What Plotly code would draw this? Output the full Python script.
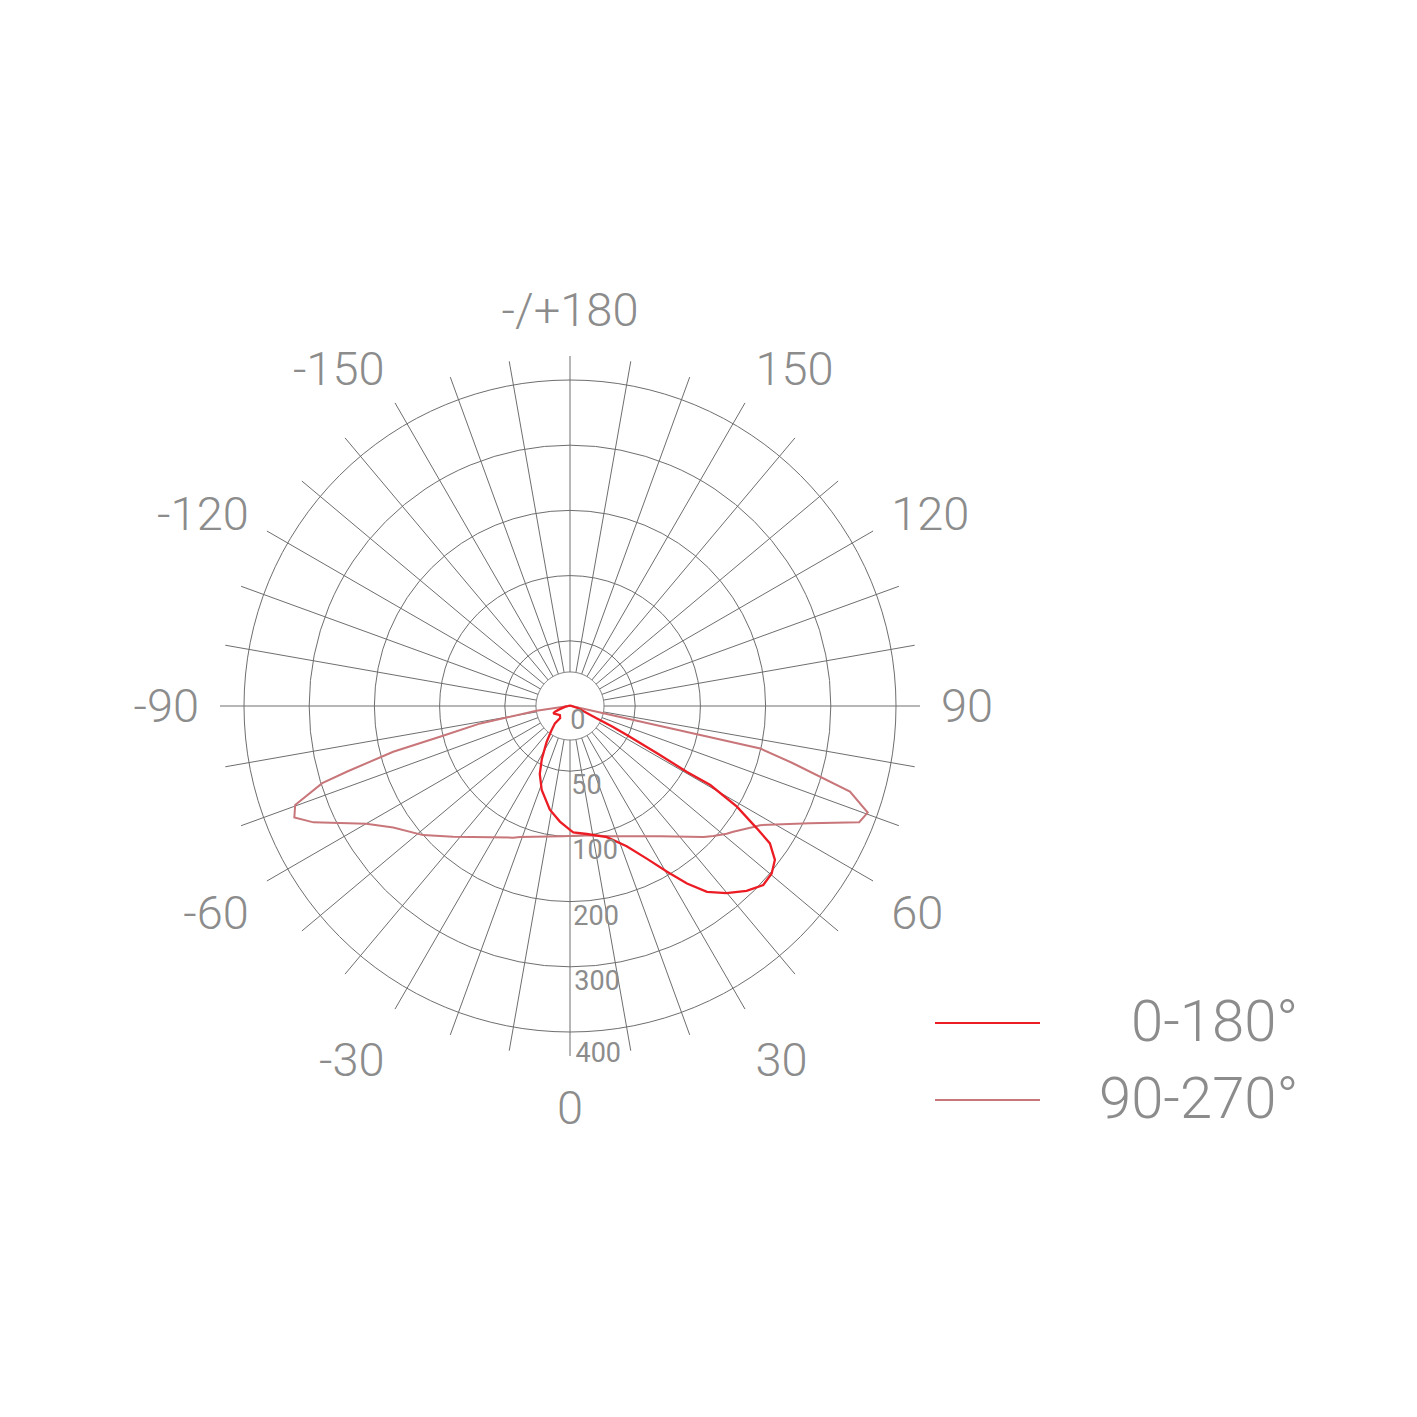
import numpy as np
import plotly.graph_objects as go

# ---------------- data ----------------
# radial scale: tick values and their (equally spaced) ring positions
radial_tick_values = [0, 50, 100, 200, 300, 400]
radial_tick_labels = ["0", "50", "100", "200", "300", "400"]

angle_ticks = list(range(0, 360, 10))
angle_label_map = {0: "0", 30: "30", 60: "60", 90: "90", 120: "120", 150: "150",
                   180: "-/+180", 210: "-150", 240: "-120", 270: "-90",
                   300: "-60", 330: "-30"}

# C0-180 plane
red_theta = [-180, -120, -100, -90, -80, -72, -69, -66, -48, -39, -41, -37, -33,
             -28, -24, -18.6, -11, -5, 0, 1.5, 7.5, 15.7, 22, 26.7, 30.3, 33.4,
             36.4, 39.9, 43.7, 47.2, 50.3, 53.1, 55.5, 56.8, 58.9, 60.6, 60.6,
             61.5, 62.9, 64, 65.3, 75, 90, 120, 180]
red_value = [0.5, 0.5, 1, 1.5, 4, 9, 12.3, 14, 10.4, 12, 17.6, 24, 33,
             46, 57, 68, 81, 89, 95, 97, 99, 109, 132, 162, 194, 226,
             254, 274, 292, 304, 302, 293, 272, 242, 199, 147, 106,
             76, 49, 36, 22, 6, 1.3, 0.5, 0.5]

# C90-270 plane
pink_theta = [-180, -120, -95, -90, -82, -79, -76.7, -75.5, -73.6, -72.7, -70.2,
              -68, -65.6, -60, -55.5, -48.7, -41.8, -23.4, -20.9, -3, 7.4, 17.1,
              32.6, 34.7, 45.6, 47.8, 50.8, 52.4, 56.6, 57.9, 63.9, 68.1, 70.3,
              73, 75.6, 77.4, 90, 120, 180]
pink_value = [0, 0, 0.5, 1, 26, 70, 105, 180, 257, 298, 348,
              356, 332, 261, 229, 200, 169, 120, 115, 100, 100, 109,
              137, 143, 187, 197, 210, 216, 237, 244, 309, 378, 385,
              349, 253, 199, 1, 0, 0]

series_names = ["0-180°", "90-270°"]
series_colors = ["#ec1c24", "#c8767a"]

# ---------------- scale ----------------
ring_pos = np.arange(len(radial_tick_values), dtype=float)  # equally spaced rings


def to_disp(v):
    return np.interp(np.asarray(v, dtype=float), radial_tick_values, ring_pos)


W = H = 1417
OFF = 8                                  # page body margin
cx, cy, R = 570 - OFF, 706 - OFF, 350    # centre and outer radius in div px
unit = 326 / ring_pos[-1]                # px per ring
rmax = R / unit
gray = "#8c8c8c"
grid = "#6e6e6e"
FONT = "Roboto"

fig = go.Figure()

# inner hub circle (covers spoke ends)
hub = np.linspace(0, 360, 361)
fig.add_trace(go.Scatterpolar(theta=hub, r=np.full_like(hub, 34 / unit), mode="lines",
                              fill="toself", fillcolor="white",
                              line=dict(color=grid, width=1), hoverinfo="skip",
                              showlegend=False))

fig.add_trace(go.Scatterpolar(theta=pink_theta, r=to_disp(pink_value), mode="lines",
                              line=dict(color=series_colors[1], width=2),
                              name=series_names[1], showlegend=False))
fig.add_trace(go.Scatterpolar(theta=red_theta, r=to_disp(red_value), mode="lines",
                              line=dict(color=series_colors[0], width=2.3),
                              name=series_names[0], showlegend=False))

# radial tick labels (slightly below each ring, right of the 0° spoke)
lab_r = list(ring_pos + 0.25)
lab_r[-1] = rmax - 0.005
fig.add_trace(go.Scatterpolar(theta=[0.9] * len(lab_r), r=lab_r, mode="text",
                              text=radial_tick_labels, textposition="middle right",
                              cliponaxis=False,
                              textfont=dict(size=27, color=gray, family=FONT),
                              hoverinfo="skip", showlegend=False))

fig.update_layout(
    width=W, height=H, margin=dict(l=0, r=0, t=0, b=0),
    paper_bgcolor="white", plot_bgcolor="white",
    font=dict(family=FONT, color=gray),
    polar=dict(
        domain=dict(x=[(cx - R) / W, (cx + R) / W],
                    y=[(H - cy - R) / H, (H - cy + R) / H]),
        bgcolor="white",
        radialaxis=dict(range=[0, rmax], tickvals=list(ring_pos[1:]),
                        showticklabels=False, ticks="", showline=False,
                        gridcolor=grid, gridwidth=1),
        angularaxis=dict(rotation=270, direction="counterclockwise",
                         tickmode="array", tickvals=angle_ticks,
                         ticktext=[angle_label_map.get(a, "") for a in angle_ticks],
                         ticks="outside", ticklen=11, tickcolor="rgba(0,0,0,0)",
                         showline=False, gridcolor=grid, gridwidth=1,
                         tickfont=dict(size=47, color=gray, family=FONT, weight=300)),
    ),
)

# legend drawn manually
leg_y = [1023 - OFF, 1100 - OFF]
for name, col, y in zip(series_names, series_colors, leg_y):
    fig.add_shape(type="line", xref="paper", yref="paper",
                  x0=(935 - OFF) / W, x1=(1040 - OFF) / W, y0=1 - y / H, y1=1 - y / H,
                  line=dict(color=col, width=2))
    fig.add_annotation(x=(1300 - OFF) / W, y=1 - (y - 2) / H, xref="paper", yref="paper",
                       text=name, showarrow=False, xanchor="right", yanchor="middle",
                       font=dict(size=58, color=gray, family=FONT, weight=300))

fig.write_html("out.html")
